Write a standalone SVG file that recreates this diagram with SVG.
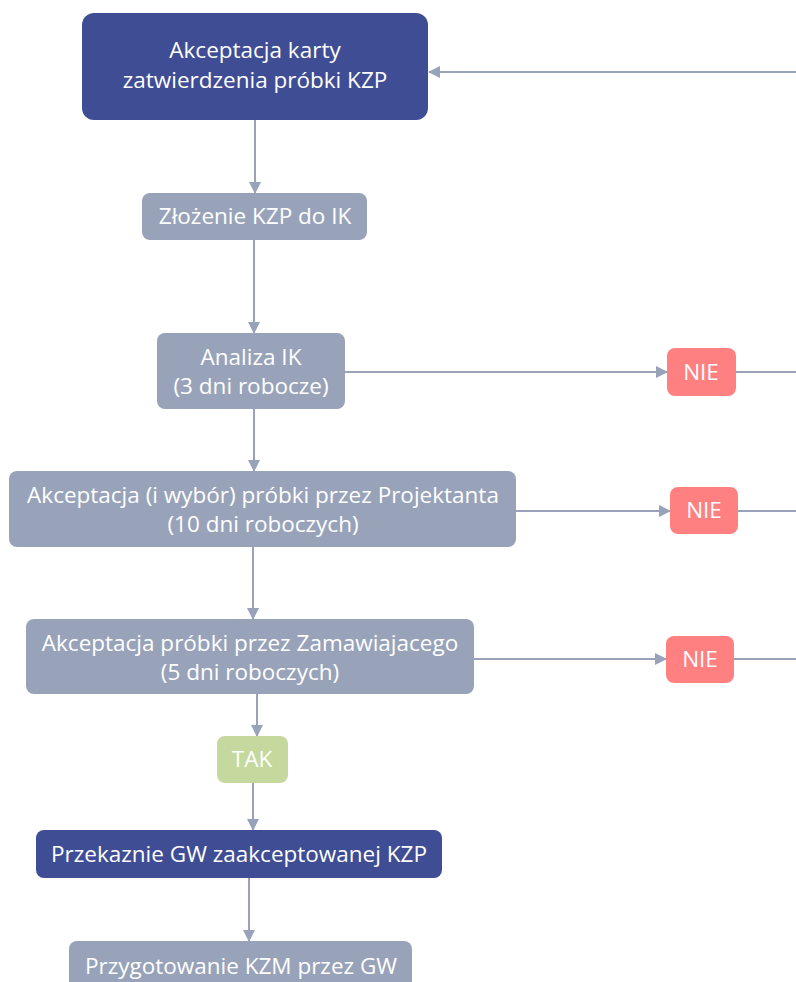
<svg xmlns="http://www.w3.org/2000/svg" width="796" height="982" viewBox="0 0 796 982">
<style>
.dark{fill:#3f4d95}
.gray{fill:#98a3ba}
.nie{fill:#ff8080}
.tak{fill:#c5d89d}
text{font-family:"Open Sans","Noto Sans","DejaVu Sans",sans-serif;font-size:22.5px;fill:#ffffff;text-anchor:middle}
.ln{stroke:#98a3ba;stroke-width:2;fill:none}
</style>
<defs>
<marker id="ah" markerWidth="12" markerHeight="12" refX="11" refY="6" orient="auto" markerUnits="userSpaceOnUse">
<path d="M0,0 L12,6 L0,12 Z" fill="#98a3ba"/>
</marker>
</defs>
<rect width="796" height="982" fill="#ffffff"/>
<g id="connectors">
<path class="ln" d="M796,72 L429,72" marker-end="url(#ah)"/>
<path class="ln" d="M255,120 L255,193" marker-end="url(#ah)"/>
<path class="ln" d="M254,240 L254,333" marker-end="url(#ah)"/>
<path class="ln" d="M345,372 L667,372" marker-end="url(#ah)"/>
<path class="ln" d="M736,372 L796,372"/>
<path class="ln" d="M254,409 L254,471" marker-end="url(#ah)"/>
<path class="ln" d="M516,511 L670,511" marker-end="url(#ah)"/>
<path class="ln" d="M738,511 L796,511"/>
<path class="ln" d="M253,547 L253,619" marker-end="url(#ah)"/>
<path class="ln" d="M474,659 L666,659" marker-end="url(#ah)"/>
<path class="ln" d="M734,659 L796,659"/>
<path class="ln" d="M257,694 L257,736" marker-end="url(#ah)"/>
<path class="ln" d="M253,783 L253,830" marker-end="url(#ah)"/>
<path class="ln" d="M249,878 L249,941" marker-end="url(#ah)"/>
</g>
<g id="n1">
<rect class="dark" x="82" y="13" width="346" height="107" rx="12"/>
<text x="255" y="58">Akceptacja karty</text>
<text x="255" y="88">zatwierdzenia próbki KZP</text>
</g>
<g id="n2">
<rect class="gray" x="142" y="193" width="225" height="47" rx="8"/>
<text x="255" y="224">Złożenie KZP do IK</text>
</g>
<g id="n3">
<rect class="gray" x="157" y="333" width="188" height="76" rx="8"/>
<text x="251" y="365">Analiza IK</text>
<text x="251" y="394">(3 dni robocze)</text>
</g>
<g id="nie1">
<rect class="nie" x="667" y="348" width="69" height="48" rx="8"/>
<text x="701" y="380">NIE</text>
</g>
<g id="n4">
<rect class="gray" x="9" y="471" width="507" height="76" rx="8"/>
<text x="263" y="503">Akceptacja (i wybór) próbki przez Projektanta</text>
<text x="263" y="532">(10 dni roboczych)</text>
</g>
<g id="nie2">
<rect class="nie" x="670" y="487" width="68" height="47" rx="8"/>
<text x="704" y="518">NIE</text>
</g>
<g id="n5">
<rect class="gray" x="26" y="619" width="448" height="75" rx="8"/>
<text x="250" y="651">Akceptacja próbki przez Zamawiajacego</text>
<text x="250" y="680">(5 dni roboczych)</text>
</g>
<g id="nie3">
<rect class="nie" x="666" y="636" width="68" height="47" rx="8"/>
<text x="700" y="667">NIE</text>
</g>
<g id="tak">
<rect class="tak" x="217" y="736" width="71" height="47" rx="8"/>
<text x="252" y="767">TAK</text>
</g>
<g id="n6">
<rect class="dark" x="36" y="830" width="406" height="48" rx="8"/>
<text x="239" y="862">Przekaznie GW zaakceptowanej KZP</text>
</g>
<g id="n7">
<rect class="gray" x="69" y="941" width="343" height="60" rx="8"/>
<text x="241" y="974">Przygotowanie KZM przez GW</text>
</g>
</svg>
